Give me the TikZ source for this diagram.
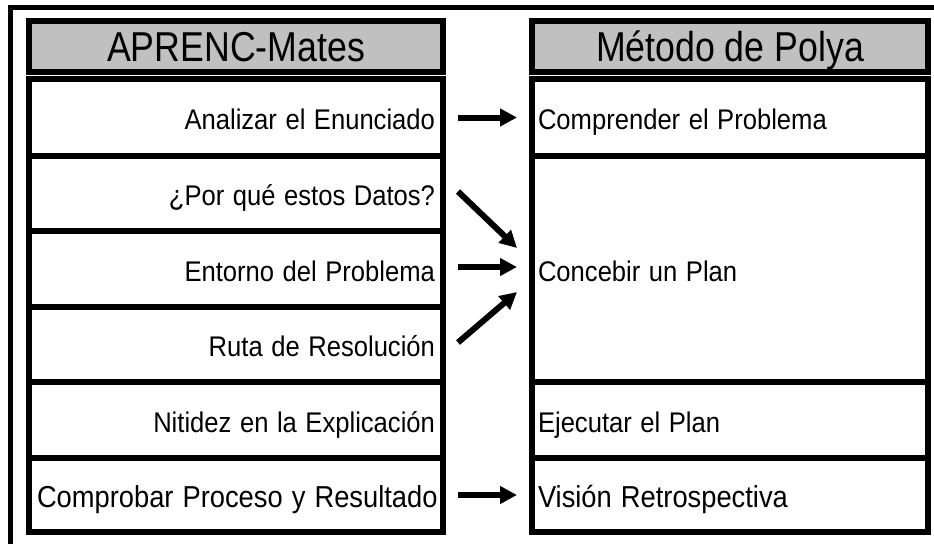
\documentclass[tikz,border=0pt]{standalone}
\usepackage{graphicx}
\usepackage{fontspec}
\setmainfont{Liberation Sans}
\usetikzlibrary{arrows.meta}
\definecolor{hdrgray}{RGB}{192,192,192}
\newcommand\rowtxt[1]{\scalebox{1}[1.11]{#1}}
\newcommand\hdrtxt[1]{\scalebox{1}[1.17]{#1}}
\begin{document}
\begin{tikzpicture}[x=1pt,y=-1pt,
  rowfont/.style={font=\fontsize{25.6}{28}\selectfont},
  bigrow/.style={font=\fontsize{27.3}{30}\selectfont, text height=24.8pt},
  cellL/.style={draw=black, line width=6pt, minimum width=414pt, text width=398pt,
    inner xsep=8pt, inner ysep=0pt, align=right, rowfont, text height=24.4pt, text depth=0pt},
  cellR/.style={draw=black, line width=6pt, minimum width=396pt, text width=384pt,
    inner xsep=6pt, inner ysep=0pt, align=left, rowfont, text height=24.4pt, text depth=0pt},
  hdr/.style={draw=black, line width=6pt, fill=hdrgray, inner sep=0pt,
    minimum height=50.5pt, font=\fontsize{35.7}{40}\selectfont, text height=29.9pt, text depth=0pt},
  arr/.style={line width=6pt, -{Triangle[length=17pt,width=17pt]}}
]
\useasboundingbox (0,0) rectangle (934,544);
% outer frame
\draw[line width=5pt, line join=miter] (10.5,544) -- (10.5,7.5) -- (934,7.5);
% headers
\node[hdr, minimum width=414pt] (h1) at (236,46.25) {\hdrtxt{APRENC-Mates}};
\node[hdr, minimum width=396pt] (h2) at (730,46.25) {\hdrtxt{Método de Polya}};
% left column
\node[cellL, minimum height=77pt] (a1) at (236,117.5) {\rowtxt{Analizar el Enunciado}};
\node[cellL, minimum height=75pt] (a2) at (236,193.5) {\rowtxt{¿Por qué estos Datos?}};
\node[cellL, minimum height=76pt] (a3) at (236,269) {\rowtxt{Entorno del Problema}};
\node[cellL, minimum height=75pt] (a4) at (236,344.5) {\rowtxt{Ruta de Resolución}};
\node[cellL, minimum height=76pt] (a5) at (236,420) {\rowtxt{Nitidez en la Explicación}};
\node[cellL, bigrow, minimum height=74pt] (a6) at (236,495) {\rowtxt{Comprobar Proceso y Resultado}};
% right column
\node[cellR, minimum height=77pt] (b1) at (730,117.5) {\rowtxt{Comprender el Problema}};
\node[cellR, minimum height=226pt] (b2) at (730,269) {\rowtxt{Concebir un Plan}};
\node[cellR, minimum height=76pt] (b3) at (730,420) {\rowtxt{Ejecutar el Plan}};
\node[cellR, bigrow, minimum height=74pt] (b4) at (730,495) {\rowtxt{Visión Retrospectiva}};
% arrows
\draw[arr] ([xshift=12pt]a1.east) -- ([xshift=-12pt]b1.west);
\draw[arr] ([shift={(12,-2)}]a2.east) -- ([shift={(-12,-21)}]b2.west);
\draw[arr] ([shift={(12,-2)}]a3.east) -- ([shift={(-12,-2)}]b2.west);
\draw[arr] ([shift={(12,-2)}]a4.east) -- ([shift={(-12,23)}]b2.west);
\draw[arr] ([xshift=12pt]a6.east) -- ([xshift=-12pt]b4.west);
\end{tikzpicture}
\end{document}
